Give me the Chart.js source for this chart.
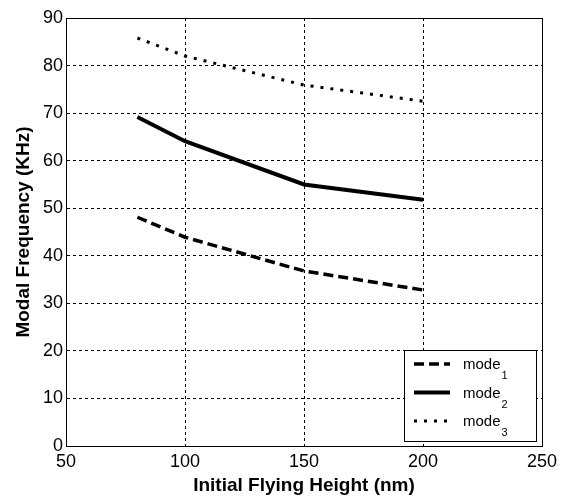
<!DOCTYPE html>
<html>
<head>
<meta charset="utf-8">
<script src="https://cdn.jsdelivr.net/npm/chart.js@4/dist/chart.umd.min.js"></script>
<style>
  html, body { margin: 0; padding: 0; background: #fff; }
  #wrap { width: 565px; height: 497px; }
</style>
</head>
<body>
<div id="wrap"><canvas id="c" width="565" height="497"></canvas></div>
<script>
const heights = [80, 100, 150, 200];
const mode1 = [48.1, 43.9, 36.8, 32.8];
const mode2 = [69.2, 64.1, 55.0, 51.8];
const mode3 = [85.8, 82.0, 75.9, 72.5];
const xTicks = [50, 100, 150, 200, 250];
const yTicks = [0, 10, 20, 30, 40, 50, 60, 70, 80, 90];
const seriesNames = ['mode', 'mode', 'mode'];
const seriesSubs = ['1', '2', '3'];

const FONT = "'Liberation Sans', Arial, sans-serif";

function pts(vals) { return heights.map((h, i) => ({ x: h, y: vals[i] })); }

const frame = {
  id: 'frame',
  afterDatasetsDraw(chart) {
    const { ctx, chartArea: a } = chart;
    ctx.save();
    ctx.strokeStyle = '#000';
    ctx.lineWidth = 1;
    ctx.setLineDash([]);
    ctx.strokeRect(a.left + 0.5, a.top + 0.5, a.right - a.left, a.bottom - a.top);
    ctx.restore();
  }
};

const legendBox = {
  id: 'legendBox',
  afterDraw(chart) {
    const { ctx, chartArea: a } = chart;
    const bx = a.right - 138, by = a.bottom - 96, bw = 132, bh = 91;
    ctx.save();
    ctx.fillStyle = '#fff';
    ctx.fillRect(bx, by, bw, bh);
    ctx.strokeStyle = '#000';
    ctx.lineWidth = 1;
    ctx.setLineDash([]);
    ctx.strokeRect(bx + 0.5, by + 0.5, bw, bh);
    chart.data.datasets.forEach((ds, i) => {
      const y = by + 14 + i * 28.5;
      ctx.strokeStyle = ds.borderColor;
      ctx.lineWidth = ds.borderWidth;
      ctx.setLineDash(ds.borderDash || []);
      ctx.beginPath();
      ctx.moveTo(bx + 10, y);
      ctx.lineTo(bx + 46, y);
      ctx.stroke();
      ctx.setLineDash([]);
      ctx.fillStyle = '#000';
      ctx.textBaseline = 'middle';
      ctx.font = '15px ' + FONT;
      ctx.fillText(seriesNames[i], bx + 59, y + 1);
      const w = ctx.measureText(seriesNames[i]).width;
      ctx.font = '11px ' + FONT;
      ctx.fillText(seriesSubs[i], bx + 59 + w + 1, y + 12);
    });
    ctx.restore();
  }
};

new Chart(document.getElementById('c'), {
  type: 'line',
  data: {
    datasets: [
      { label: 'mode1', data: pts(mode1), borderColor: '#000', borderWidth: 3.5, borderDash: [10, 5], pointRadius: 0, fill: false, tension: 0 },
      { label: 'mode2', data: pts(mode2), borderColor: '#000', borderWidth: 4, pointRadius: 0, fill: false, tension: 0 },
      { label: 'mode3', data: pts(mode3), borderColor: '#000', borderWidth: 3, borderDash: [3, 7], pointRadius: 0, fill: false, tension: 0 }
    ]
  },
  plugins: [frame, legendBox],
  options: {
    responsive: false,
    animation: false,
    devicePixelRatio: 1,
    layout: { padding: { left: 0, right: 23, top: 18, bottom: 0 } },
    plugins: { legend: { display: false }, tooltip: { enabled: false } },
    scales: {
      x: {
        type: 'linear',
        min: 50, max: 250,
        afterBuildTicks(scale) { scale.ticks = xTicks.map(v => ({ value: v })); },
        afterFit(scale) { scale.height = 51; },
        grid: { color: '#000', lineWidth: 1, drawTicks: false },
        border: { display: true, color: '#000', dash: [3, 3] },
        ticks: { color: '#000', font: { family: FONT, size: 18 }, padding: 5 },
        title: { display: true, text: 'Initial Flying Height (nm)', color: '#000', font: { family: FONT, size: 19, weight: 'bold' }, padding: { top: 0, bottom: 0 } }
      },
      y: {
        type: 'linear',
        min: 0, max: 90,
        afterBuildTicks(scale) { scale.ticks = yTicks.map(v => ({ value: v })); },
        afterFit(scale) { scale.width = 66; },
        grid: { color: '#000', lineWidth: 1, drawTicks: false },
        border: { display: true, color: '#000', dash: [3, 3] },
        ticks: { color: '#000', font: { family: FONT, size: 18 }, padding: 3 },
        title: { display: true, text: 'Modal Frequency (KHz)', color: '#000', font: { family: FONT, size: 19, weight: 'bold' }, padding: { top: 12, bottom: 0 } }
      }
    }
  }
});
</script>
</body>
</html>
